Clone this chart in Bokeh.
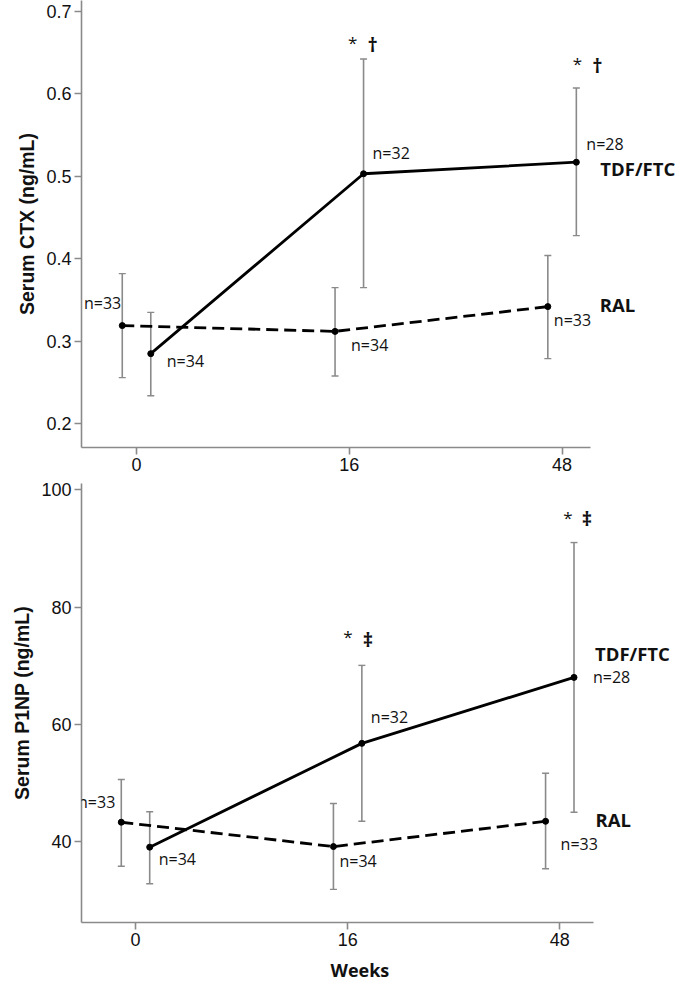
from bokeh.plotting import figure
from bokeh.models import Range1d, FixedTicker, Whisker, TeeHead, ColumnDataSource, Label, Title
from bokeh.layouts import column
from bokeh.embed import file_html
from bokeh.resources import INLINE

# ---------------- data ----------------
weeks = ["0", "16", "48"]

ctx_tdf_mean = [0.285, 0.503, 0.517]
ctx_tdf_lower = [0.234, 0.365, 0.428]
ctx_tdf_upper = [0.335, 0.642, 0.607]
ctx_ral_mean = [0.319, 0.312, 0.342]
ctx_ral_lower = [0.256, 0.258, 0.279]
ctx_ral_upper = [0.382, 0.365, 0.404]
ctx_tdf_n = [34, 32, 28]
ctx_ral_n = [33, 34, 33]
ctx_sig = ["", "†", "†"]
ctx_ticks = [0.2, 0.3, 0.4, 0.5, 0.6, 0.7]

p1np_tdf_mean = [39.05, 56.75, 68.0]
p1np_tdf_lower = [32.8, 43.46, 45.0]
p1np_tdf_upper = [45.1, 70.05, 91.0]
p1np_ral_mean = [43.3, 39.15, 43.46]
p1np_ral_lower = [35.8, 31.85, 35.36]
p1np_ral_upper = [50.6, 46.5, 51.66]
p1np_tdf_n = [34, 32, 28]
p1np_ral_n = [33, 34, 33]
p1np_sig = ["", "‡", "‡"]
p1np_ticks = [40, 60, 80, 100]

# ---------------- style ----------------
GRAY = "#8a8a8a"
AXIS_FONT = "Liberation Sans"
TEXT_FONT = "Open Sans"
DODGE = 0.067
W = 677


def text(p, x, y, s, dx, dy, align="left", size="16px", style="normal", font=TEXT_FONT):
    p.add_layout(Label(x=x, y=y, text=s, x_offset=dx, y_offset=dy,
                       text_align=align, text_baseline="middle",
                       text_font=font, text_font_size=size,
                       text_font_style=style, text_color="#111111"))


def panel(height, left, top, bottom, scale, x0, axis_end, yr, ticks, ylabel,
          tdf_m, tdf_lo, tdf_hi, ral_m, ral_lo, ral_hi, tdf_n, ral_n, sig, lay):
    frame_w = W - left
    xr = (x0, x0 + frame_w / scale)
    p = figure(width=W, height=height, output_backend="svg", toolbar_location=None,
               x_range=Range1d(*xr), y_range=Range1d(*yr),
               min_border_left=left, min_border_right=0,
               min_border_top=top, min_border_bottom=bottom)
    p.outline_line_color = None
    p.grid.grid_line_color = None
    p.background_fill_color = "white"

    idx = list(range(len(weeks)))
    tdf_x = [i + DODGE for i in idx]
    ral_x = [i - DODGE for i in idx]

    for xs, lo, hi in ((ral_x, ral_lo, ral_hi), (tdf_x, tdf_lo, tdf_hi)):
        src = ColumnDataSource(dict(x=xs, lower=lo, upper=hi))
        wsk = Whisker(source=src, base="x", lower="lower", upper="upper",
                      line_color=GRAY, line_width=1.6, level="underlay",
                      upper_head=TeeHead(size=7, line_color=GRAY, line_width=1.4),
                      lower_head=TeeHead(size=7, line_color=GRAY, line_width=1.4))
        p.add_layout(wsk)

    p.line(ral_x, ral_m, line_color="black", line_width=2.8, line_dash="12 6")
    p.line(tdf_x, tdf_m, line_color="black", line_width=2.8)
    p.scatter(ral_x, ral_m, size=6, color="black")
    p.scatter(tdf_x, tdf_m, size=6, color="black")

    # axes
    for ax in (p.xaxis, p.yaxis):
        ax.axis_line_color = GRAY
        ax.axis_line_width = 1.6
        ax.major_tick_line_color = GRAY
        ax.major_tick_line_width = 1.6
        ax.major_tick_in = 0
        ax.major_tick_out = 7
        ax.minor_tick_line_color = None
        ax.major_label_text_font = AXIS_FONT
        ax.major_label_text_font_size = "18px"
        ax.major_label_text_color = "#111111"
        ax.major_label_standoff = 3
    p.xaxis.bounds = (x0, axis_end)
    p.xaxis.ticker = FixedTicker(ticks=idx)
    p.xaxis.major_label_overrides = {i: w for i, w in zip(idx, weeks)}
    p.yaxis.ticker = FixedTicker(ticks=ticks)
    p.yaxis.axis_label = ylabel
    p.yaxis.axis_label_text_font = AXIS_FONT
    p.yaxis.axis_label_text_font_style = "bold"
    p.yaxis.axis_label_text_font_size = "19.5px"
    p.yaxis.axis_label_text_color = "#111111"
    p.yaxis.axis_label_standoff = 5

    # n labels
    for i in idx:
        dx, dy, al = lay["tdf_n"][i]
        text(p, tdf_x[i], tdf_m[i], f"n={tdf_n[i]}", dx, dy, al)
        dx, dy, al = lay["ral_n"][i]
        text(p, ral_x[i], ral_m[i], f"n={ral_n[i]}", dx, dy, al)
    # group names
    last = idx[-1]
    dx, dy = lay["tdf_name"]
    text(p, tdf_x[last], tdf_m[last], "TDF/FTC", dx, dy, size="18.5px", style="bold")
    dx, dy = lay["ral_name"]
    text(p, ral_x[last], ral_m[last], "RAL", dx, dy, size="18.5px", style="bold")
    # significance marks
    for i in idx:
        if sig[i]:
            (sx, sy), (gx, gy) = lay["sig"][i]
            text(p, tdf_x[i], tdf_hi[i], "*", sx, sy, "center", size="17px")
            text(p, tdf_x[i], tdf_hi[i], sig[i], gx, gy, "center", size="20px", style="bold")
    return p, idx


lay_top = dict(
    tdf_n=[(16, -7, "left"), (9, 21, "left"), (10, 18, "left")],
    ral_n=[(-1, 23, "right"), (16, -14, "left"), (6, -13, "left")],
    tdf_name=(24, -6), ral_name=(52, 2),
    sig=[None, ((-11, 17), (9, 15)), ((1, 24), (21, 22))],
)
lay_bot = dict(
    tdf_n=[(9, -12, "left"), (9, 26, "left"), (19, 0, "left")],
    ral_n=[(-6, 20, "right"), (6, -14, "left"), (15, -23, "left")],
    tdf_name=(21, 24), ral_name=(50, 2),
    sig=[None, ((-14, 29), (6, 26)), ((-6, 25), (13, 24))],
)

top, _ = panel(481, 78, 0, 34, 213.85, -0.2586, 2.1356, (0.17128, 0.71297), ctx_ticks,
               "Serum CTX (ng/mL)",
               ctx_tdf_mean, ctx_tdf_lower, ctx_tdf_upper,
               ctx_ral_mean, ctx_ral_lower, ctx_ral_upper,
               ctx_tdf_n, ctx_ral_n, ctx_sig, lay_top)

bot, idx = panel(507, 81, 2, 64, 212.15, -0.2545, 2.16, (26.2, 101.07), p1np_ticks,
                 "Serum P1NP (ng/mL)",
                 p1np_tdf_mean, p1np_tdf_lower, p1np_tdf_upper,
                 p1np_ral_mean, p1np_ral_lower, p1np_ral_upper,
                 p1np_tdf_n, p1np_ral_n, p1np_sig, lay_bot)

bot.add_layout(Title(text="Weeks", align="left", offset=249, standoff=14,
                     text_font=TEXT_FONT, text_font_size="18px",
                     text_font_style="bold", text_color="#111111"), "below")

p = column(top, bot)
open("out.html", "w").write(file_html(p, INLINE))
